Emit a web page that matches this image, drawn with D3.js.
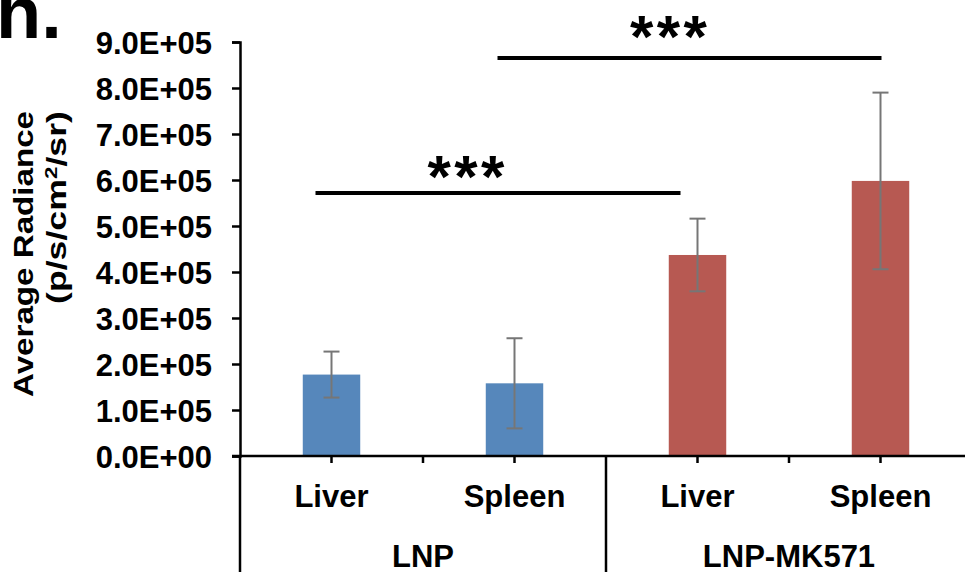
<!DOCTYPE html>
<html>
<head>
<meta charset="utf-8">
<script src="https://cdn.jsdelivr.net/npm/d3@7"></script>
<style>
  html, body { margin: 0; padding: 0; background: #fff; overflow: hidden; }
  text { font-family: "Liberation Sans", Arial, sans-serif; font-weight: bold; }
</style>
</head>
<body>
<svg id="chart" width="965" height="572"></svg>
<script>
// data
const categories = ["LNP|Liver", "LNP|Spleen", "LNP-MK571|Liver", "LNP-MK571|Spleen"];
const organs = ["Liver", "Spleen", "Liver", "Spleen"];
const groups = ["LNP", "LNP-MK571"];
const means = [1.77e5, 1.58e5, 4.37e5, 5.98e5];
const errors = [0.5e5, 0.98e5, 0.79e5, 1.92e5];
const yTicks = [0, 1e5, 2e5, 3e5, 4e5, 5e5, 6e5, 7e5, 8e5, 9e5];
// significance brackets: from/to category, height in data units
const sigFrom = ["LNP|Liver", "LNP|Spleen"];
const sigTo = ["LNP-MK571|Liver", "LNP-MK571|Spleen"];
const sigLevel = [5.72e5, 8.65e5];
const sigText = ["***", "***"];

const colors = { "LNP": "#5687bb", "LNP-MK571": "#b75952" };

const svg = d3.select("#chart");
const config = {
  left: 240,
  top: 42,
  bottom: 456,
  catWidth: 183,
  barFrac: 0.314,
  // hand placement of the star labels relative to their line
  sigLineEnds: [[-16, -17], [-17, 1]],
  sigLabelDx: [-32, -21],
  sigLabelDy: [4, -1],
};

const xScale = d3
  .scaleBand()
  .domain(categories)
  .range([config.left, config.left + config.catWidth * categories.length])
  .paddingInner(0)
  .paddingOuter(0);
const yScale = d3.scaleLinear().domain([0, 9e5]).range([config.bottom, config.top]);

function sci(v) {
  if (v === 0) return "0.0E+00";
  const e = Math.floor(Math.log10(v) + 1e-9);
  const m = v / Math.pow(10, e);
  return `${m.toFixed(1)}E+${String(e).padStart(2, "0")}`;
}

// panel letter
svg
  .append("text")
  .attr("x", -4)
  .attr("y", 38)
  .style("font-size", "74px")
  .text("h.");

// y axis
const yAxis = svg
  .append("g")
  .attr("transform", `translate(${config.left},0)`)
  .call(d3.axisLeft(yScale).tickValues(yTicks).tickSize(8).tickPadding(20).tickFormat(sci));
yAxis.select(".domain").attr("stroke", "#000").attr("stroke-width", 2.5);
yAxis.selectAll(".tick line").attr("stroke", "#000").attr("stroke-width", 2.5);
yAxis
  .selectAll(".tick text")
  .attr("fill", "#000")
  .attr("dy", "0.36em")
  .style("font-size", "31px")
  .style("font-family", '"Liberation Sans", Arial, sans-serif');

// y title (two lines, rotated)
const yTitle = svg.append("g").attr("transform", "rotate(-90)");
yTitle
  .append("text")
  .attr("x", -111)
  .attr("y", 33)
  .attr("text-anchor", "end")
  .attr("textLength", 286)
  .attr("lengthAdjust", "spacingAndGlyphs")
  .style("font-size", "27px")
  .text("Average Radiance");
const t2 = yTitle
  .append("text")
  .attr("x", -111)
  .attr("y", 66)
  .attr("text-anchor", "end")
  .attr("textLength", 193)
  .attr("lengthAdjust", "spacingAndGlyphs")
  .style("font-size", "27px");
t2.append("tspan").text("(p/s/cm");
t2.append("tspan").attr("dy", -9).style("font-size", "17px").text("2");
t2.append("tspan").attr("dy", 9).text("/sr)");

// bars
const bw = config.catWidth * config.barFrac;
const rows = categories.map((c, i) => ({
  key: c,
  group: c.split("|")[0],
  value: means[i],
  err: errors[i],
}));

svg
  .append("g")
  .selectAll("rect")
  .data(rows)
  .join("rect")
  .attr("x", (d) => xScale(d.key) + xScale.bandwidth() / 2 - bw / 2)
  .attr("width", bw)
  .attr("y", (d) => yScale(d.value))
  .attr("height", (d) => yScale(0) - yScale(d.value))
  .attr("fill", (d) => colors[d.group]);

// error bars
const eg = svg
  .append("g")
  .attr("stroke", "#767676")
  .attr("stroke-width", 2)
  .selectAll("g")
  .data(rows)
  .join("g")
  .attr("transform", (d) => `translate(${xScale(d.key) + xScale.bandwidth() / 2},0)`);
eg.append("line")
  .attr("y1", (d) => yScale(d.value + d.err))
  .attr("y2", (d) => yScale(d.value - d.err));
eg.append("line")
  .attr("x1", -8)
  .attr("x2", 8)
  .attr("y1", (d) => yScale(d.value + d.err))
  .attr("y2", (d) => yScale(d.value + d.err));
eg.append("line")
  .attr("x1", -8)
  .attr("x2", 8)
  .attr("y1", (d) => yScale(d.value - d.err))
  .attr("y2", (d) => yScale(d.value - d.err));

// x axis (multi-level category axis)
const xg = svg.append("g").attr("stroke", "#000");
xg.append("line")
  .attr("x1", config.left - 8)
  .attr("x2", xScale.range()[1])
  .attr("y1", config.bottom)
  .attr("y2", config.bottom)
  .attr("stroke-width", 2.5);
// short ticks at category centres and inner boundaries
const shortTicks = categories
  .map((c) => xScale(c) + xScale.bandwidth() / 2)
  .concat([xScale(categories[1]), xScale(categories[3])]);
xg.selectAll(".short")
  .data(shortTicks)
  .join("line")
  .attr("class", "short")
  .attr("x1", (d) => d)
  .attr("x2", (d) => d)
  .attr("y1", config.bottom)
  .attr("y2", config.bottom + 7)
  .attr("stroke-width", 2.5);
// long group separators
const longTicks = [config.left, xScale(categories[2])];
xg.selectAll(".long")
  .data(longTicks)
  .join("line")
  .attr("class", "long")
  .attr("x1", (d) => d)
  .attr("x2", (d) => d)
  .attr("y1", config.bottom)
  .attr("y2", 572)
  .attr("stroke-width", 2.5);

// category labels
svg
  .append("g")
  .selectAll("text")
  .data(categories)
  .join("text")
  .attr("x", (d) => xScale(d) + xScale.bandwidth() / 2)
  .attr("y", 507)
  .attr("text-anchor", "middle")
  .style("font-size", "31px")
  .text((d, i) => organs[i]);

// group labels
svg
  .append("g")
  .selectAll("text")
  .data(groups)
  .join("text")
  .attr("x", (d, i) => xScale(categories[i * 2]) + xScale.bandwidth())
  .attr("y", 567)
  .attr("text-anchor", "middle")
  .style("font-size", "31px")
  .text((d) => d);

// significance lines
const sigRows = sigLevel.map((v, i) => {
  const x1 = xScale(sigFrom[i]) + xScale.bandwidth() / 2 + config.sigLineEnds[i][0];
  const x2 = xScale(sigTo[i]) + xScale.bandwidth() / 2 + config.sigLineEnds[i][1];
  return { v, x1, x2, label: sigText[i], dx: config.sigLabelDx[i], dy: config.sigLabelDy[i] };
});
const sig = svg.append("g").selectAll("g").data(sigRows).join("g");
sig
  .append("line")
  .attr("x1", (d) => d.x1)
  .attr("x2", (d) => d.x2)
  .attr("y1", (d) => yScale(d.v))
  .attr("y2", (d) => yScale(d.v))
  .attr("stroke", "#000")
  .attr("stroke-width", 4);
sig
  .append("text")
  .attr("x", (d) => (d.x1 + d.x2) / 2 + d.dx + 1.7)
  .attr("y", (d) => yScale(d.v) + d.dy)
  .attr("text-anchor", "middle")
  .style("font-size", "60px")
  .style("letter-spacing", "3.4px")
  .text((d) => d.label);
</script>
</body>
</html>
